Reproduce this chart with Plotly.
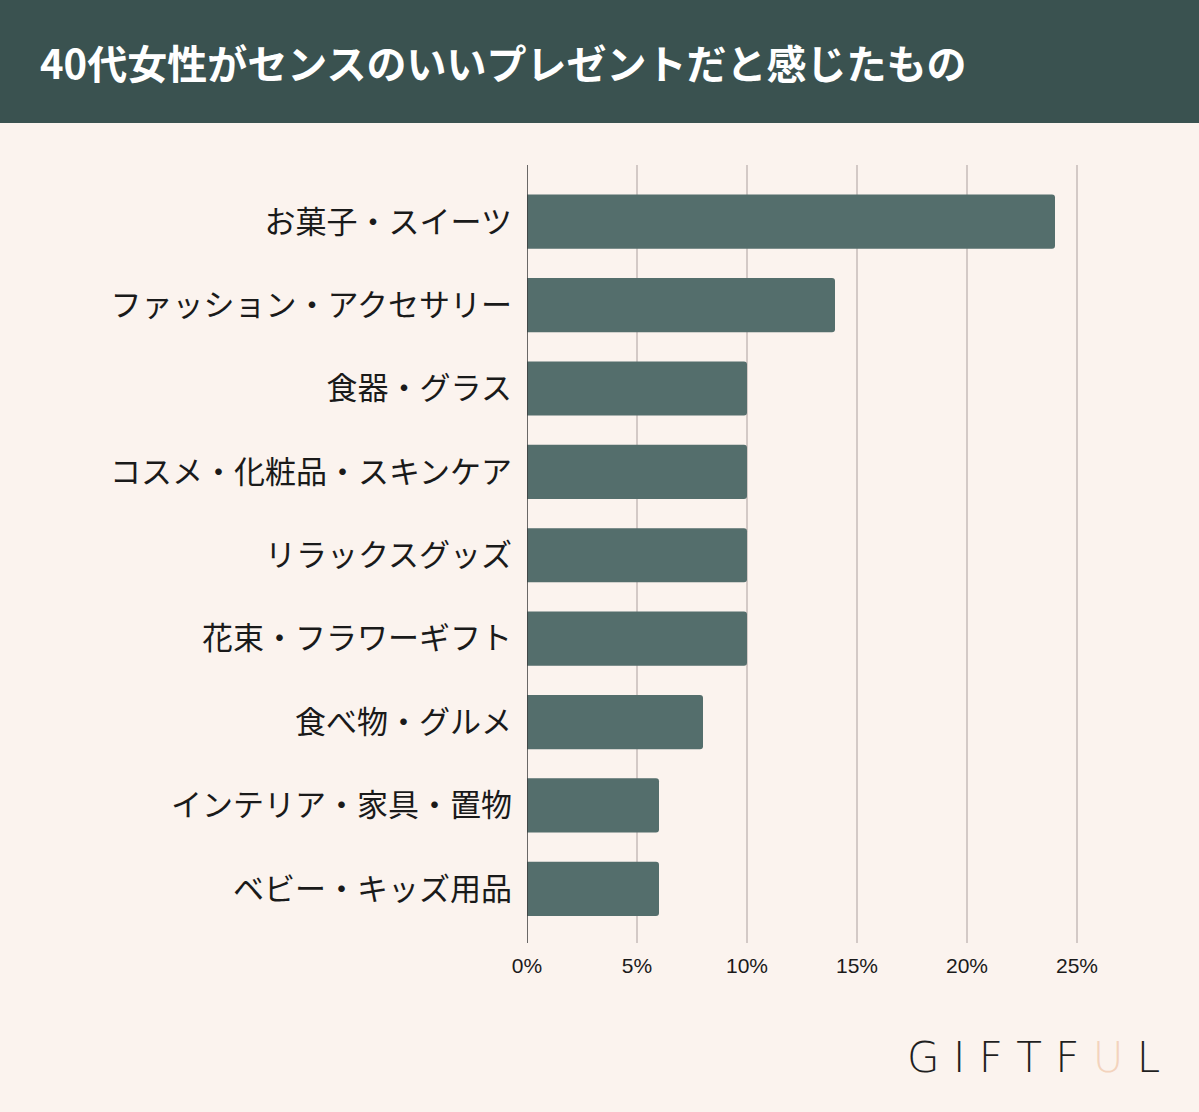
import plotly.graph_objects as go

categories = [
    "お菓子・スイーツ",
    "ファッション・アクセサリー",
    "食器・グラス",
    "コスメ・化粧品・スキンケア",
    "リラックスグッズ",
    "花束・フラワーギフト",
    "食べ物・グルメ",
    "インテリア・家具・置物",
    "ベビー・キッズ用品",
]
shares = [24, 14, 10, 10, 10, 10, 8, 6, 6]
tick_vals = [0, 5, 10, 15, 20, 25]
tick_text = ["0%", "5%", "10%", "15%", "20%", "25%"]
title_text = "40代女性がセンスのいいプレゼントだと感じたもの"

W, H = 1199, 1112
m_top, m_bot, m_left, m_right = 165, 169, 527, 78
plot_h = H - m_top - m_bot
plot_w = W - m_left - m_right

fig = go.Figure()
fig.add_trace(go.Bar(
    x=shares,
    y=categories,
    orientation="h",
    marker=dict(color="#546e6c", cornerradius=3, line=dict(width=0)),
    hoverinfo="x+y",
))

fig.update_layout(
    width=W, height=H,
    margin=dict(t=m_top, b=m_bot, l=m_left, r=m_right, pad=0),
    paper_bgcolor="#fbf3ee",
    plot_bgcolor="#fbf3ee",
    showlegend=False,
    bargap=0.35,
    font=dict(family="Noto Sans CJK JP", color="#1a1a1a"),
)
fig.update_xaxes(
    range=[0, 27],
    tickvals=tick_vals,
    ticktext=tick_text,
    showgrid=True,
    gridcolor="#d3c9c6",
    gridwidth=2,
    zeroline=False,
    showline=False,
    tickfont=dict(family="Liberation Sans", size=21, color="#1a1a1a"),
    ticks="outside", ticklen=4, tickcolor="rgba(0,0,0,0)",
    fixedrange=True,
)
fig.update_yaxes(
    categoryorder="array",
    categoryarray=categories,
    range=[len(categories) - 1 + 0.65, -0.68],
    showgrid=False,
    zeroline=False,
    tickfont=dict(family="Noto Sans CJK JP", size=31, color="#1a1a1a"),
    ticklabelstandoff=14,
    fixedrange=True,
)

# dark baseline at 0%
fig.add_shape(type="line", xref="x", yref="paper", x0=0, x1=0, y0=0, y1=1,
              line=dict(color="#3a3a3a", width=1.5), layer="above")

# header band
fig.add_shape(type="rect", xref="paper", yref="paper",
              x0=-2, x1=2, y0=1 + (m_top - 123) / plot_h, y1=1 + (m_top + 5) / plot_h,
              fillcolor="#3a5250", line=dict(width=0), layer="below")

fig.add_annotation(
    text="<b>" + title_text + "</b>",
    xref="paper", yref="paper",
    x=-(m_left - 38) / plot_w, xanchor="left",
    y=1 + (m_top - 62) / plot_h, yanchor="middle",
    showarrow=False,
    font=dict(family="Noto Sans CJK JP", size=40, color="#ffffff"),
)

fig.add_annotation(
    text="G I F T F <span style='color:#f3d3bd'>U</span> L",
    xref="paper", yref="paper",
    x=1 + (m_right - 37) / plot_w, xanchor="right",
    y=-(1057 - (H - m_bot)) / plot_h, yanchor="middle",
    showarrow=False,
    font=dict(family="DejaVu Sans", size=42, color="#1f1f1f", weight=200),
)

fig.write_html("out.html", config={"displayModeBar": False},
               post_script="document.body.style.margin='0';")
